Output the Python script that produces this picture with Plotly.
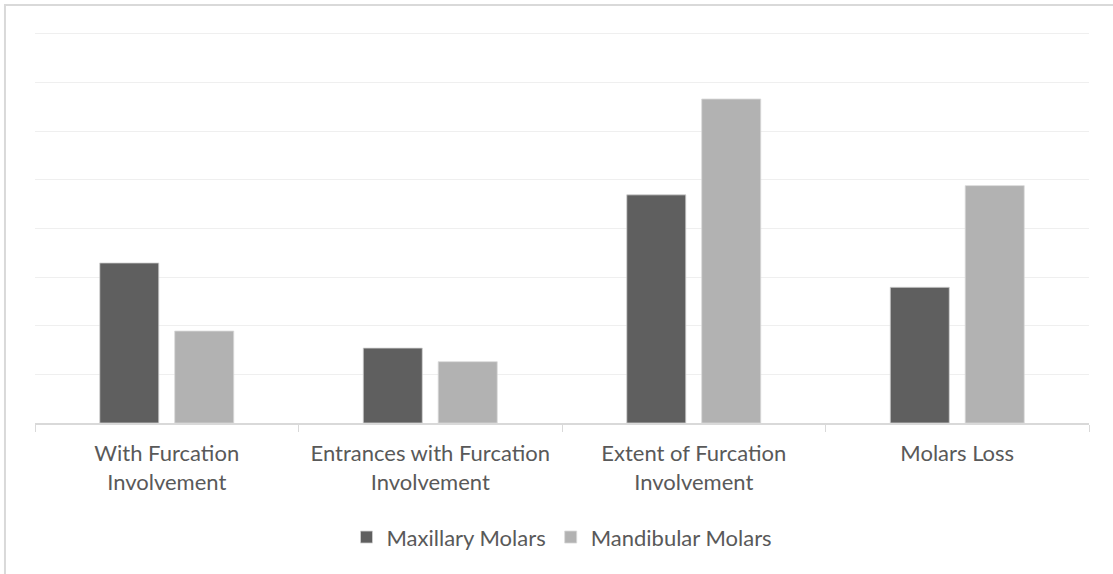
import plotly.graph_objects as go

categories = ["With Furcation<br>Involvement", "Entrances with Furcation<br>Involvement",
              "Extent of Furcation<br>Involvement", "Molars Loss"]
maxillary = [3.29, 1.54, 4.69, 2.79]
mandibular = [1.89, 1.26, 6.66, 4.88]
series_names = ["Maxillary Molars", "Mandibular Molars"]

FONT = "Lato"
TXT = "#595959"

fig = go.Figure()
fig.add_trace(go.Bar(x=categories, y=maxillary, name=series_names[0],
                     marker=dict(color="#5F5F5F", line=dict(color="#D0D0D0", width=0.8))))
fig.add_trace(go.Bar(x=categories, y=mandibular, name=series_names[1],
                     marker=dict(color="#B2B2B2", line=dict(color="#D8D8D8", width=0.8))))

fig.update_layout(
    width=1113, height=574,
    margin=dict(l=35, r=24, t=29, b=151, autoexpand=False),
    paper_bgcolor="white", plot_bgcolor="white",
    barmode="group", bargap=0.431, bargroupgap=0.213,
    font=dict(family=FONT, size=22, color=TXT),
    showlegend=True,
    legend=dict(orientation="h", x=0.5, xanchor="center", y=-0.29, yanchor="middle",
                font=dict(family=FONT, size=22, color=TXT), itemwidth=30,
                traceorder="normal"),
    xaxis=dict(showline=True, linecolor="#D9D9D9", linewidth=1.5,
               ticks="outside", tickson="boundaries", ticklen=7, tickcolor="#D9D9D9",
               ticklabelstandoff=10,
               tickfont=dict(family=FONT, size=22, color=TXT), showgrid=False),
    yaxis=dict(range=[0, 8.1], dtick=1, showticklabels=False, showgrid=True,
               gridcolor="#EFEFEF", gridwidth=1.3, zeroline=False, showline=False),
    shapes=[dict(type="rect", xref="paper", yref="paper",
                 x0=-0.0285, y0=-0.5, x1=1.1, y1=1.061,
                 line=dict(color="#D9D9D9", width=2), fillcolor="rgba(0,0,0,0)", layer="below")],
)

fig.write_html("out.html", config={"displayModeBar": False},
               post_script="document.body.style.margin='0';")
